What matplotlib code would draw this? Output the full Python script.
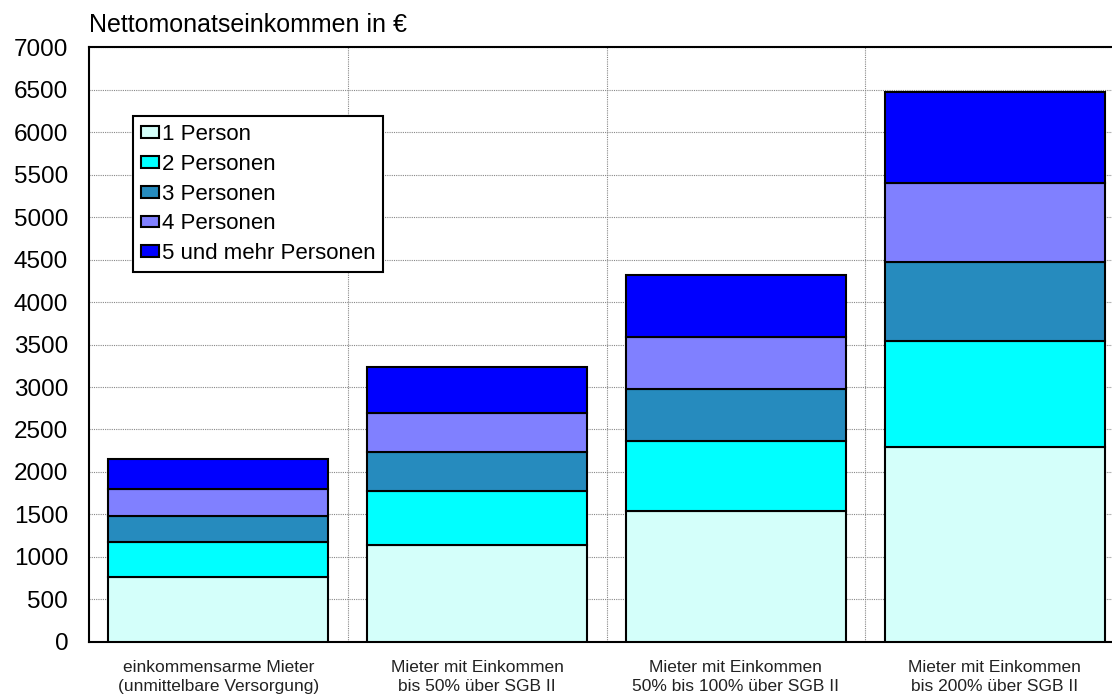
import matplotlib
matplotlib.use("Agg")
import matplotlib.pyplot as plt
import numpy as np

plt.rcParams['font.family'] = ['Liberation Sans', 'DejaVu Sans']

categories = ["einkommensarme Mieter\n(unmittelbare Versorgung)",
              "Mieter mit Einkommen\nbis 50% über SGB II",
              "Mieter mit Einkommen\n50% bis 100% über SGB II",
              "Mieter mit Einkommen\nbis 200% über SGB II"]
series_names = ["1 Person", "2 Personen", "3 Personen", "4 Personen", "5 und mehr Personen"]
p1 = [765, 1145, 1535, 2295]
p2 = [405, 630, 835, 1250]
p3 = [315, 460, 610, 930]
p4 = [315, 460, 615, 925]
p5 = [350, 540, 725, 1080]
colors = ['#D4FFFA', '#00FFFF', '#268BBE', '#8080FF', '#0000FF']
yticks = list(range(0, 7001, 500))

W, H = 1112, 695
fig = plt.figure(figsize=(W / 100, H / 100), dpi=100)
ax = fig.add_axes([89 / W, 53.3 / H, 1035 / W, 594.2 / H])

x = np.arange(len(categories))
bottom = np.zeros(len(categories))
handles = []
for vals, name, c in zip([p1, p2, p3, p4, p5], series_names, colors):
    b = ax.bar(x, vals, width=0.85, bottom=bottom, color=c, edgecolor='black',
               linewidth=1.5, label=name, zorder=3)
    handles.append(b)
    bottom += np.array(vals)

ax.set_xlim(-0.5, len(categories) - 0.5)
ax.set_ylim(0, 7000)
ax.set_yticks(yticks)
ax.set_yticklabels([str(v) for v in yticks], fontsize=17.5)
ax.set_xticks(x)
ax.set_xticklabels(categories, fontsize=12.5, color='#222222', linespacing=1.35)
ax.set_xticks(np.arange(len(categories) - 1) + 0.5, minor=True)
ax.tick_params(axis='both', which='both', length=0)
ax.tick_params(axis='y', pad=15)
ax.tick_params(axis='x', pad=13)
ax.grid(True, axis='y', which='major', color='#888888', linestyle=(0, (1, 1)), linewidth=0.8, zorder=0)
ax.grid(True, axis='x', which='minor', color='#888888', linestyle=(0, (1, 1)), linewidth=0.8, zorder=0)
ax.grid(False, axis='x', which='major')
for s in ax.spines.values():
    s.set_linewidth(1.5)
    s.set_color('black')

leg = ax.legend(handles=handles, labels=series_names, loc='upper left',
                bbox_to_anchor=(44 / 1035, (641.7 - 116) / 594.2),
                fontsize=16, frameon=True, fancybox=False, framealpha=1,
                handlelength=0.8, handleheight=0.45, handletextpad=0.15,
                labelspacing=0.4, borderpad=0.35, borderaxespad=0)
leg.get_frame().set_edgecolor('black')
leg.get_frame().set_linewidth(1.5)
leg.set_zorder(5)

fig.text(89 / W, 1 - 32 / H, "Nettomonatseinkommen in €", fontsize=18, va='baseline', ha='left')

fig.savefig("out.png", dpi=100)
